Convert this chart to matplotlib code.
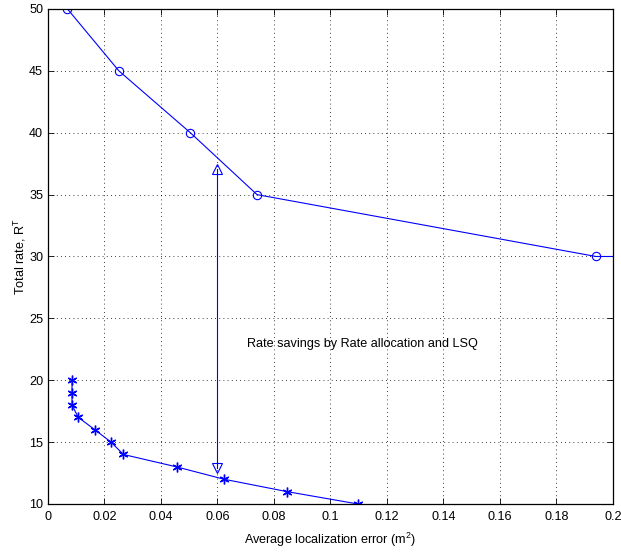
import matplotlib
matplotlib.use("Agg")
import matplotlib.pyplot as plt
from matplotlib.ticker import FuncFormatter

plt.rcParams['font.family'] = ['Liberation Sans', 'DejaVu Sans']
plt.rcParams['mathtext.fontset'] = 'custom'
plt.rcParams['mathtext.rm'] = 'Liberation Sans'
plt.rcParams['mathtext.it'] = 'Liberation Sans'

# uniform quantization curve
err_uniform = [0.0069, 0.0251, 0.0504, 0.0740, 0.1940, 0.2300]
rate_uniform = [50, 45, 40, 35, 30, 30]

# rate allocation + LSQ curve
err_lsq = [0.0085, 0.0085, 0.0085, 0.0107, 0.0166, 0.0223, 0.0267, 0.0455, 0.0623, 0.0846, 0.1097]
rate_lsq = [20, 19, 18, 17, 16, 15, 14, 13, 12, 11, 10]

arrow_x = 0.06
arrow_top = 37.1
arrow_bottom = 12.9
note = 'Rate savings by Rate allocation and LSQ'

fs = 9.1

fig = plt.figure(figsize=(6.21, 5.52), dpi=100)
ax = fig.add_axes([0.0773, 0.087, 0.9097, 0.8967])

ax.plot(err_uniform, rate_uniform, color='blue', lw=0.8, marker='o',
        ms=6, mfc='none', mec='blue', mew=0.8)
ax.plot(err_lsq, rate_lsq, color='blue', lw=0.8, marker=(6, 2, 0),
        ms=7, mec='blue', mew=1.0)

# arrow between the curves
ax.plot([arrow_x, arrow_x], [arrow_top, arrow_bottom], color='blue', lw=0.8)
ax.plot([arrow_x], [arrow_top], marker='^', ms=7, mfc='none', mec='blue', mew=0.8)
ax.plot([arrow_x], [arrow_bottom], marker='v', ms=7, mfc='none', mec='blue', mew=0.8)
ax.text(0.0703, 22.9, note, fontsize=fs, va='center', ha='left')

ax.set_xlim(0, 0.2)
ax.set_ylim(10, 50)
ax.set_xticks([0, 0.02, 0.04, 0.06, 0.08, 0.1, 0.12, 0.14, 0.16, 0.18, 0.2])
ax.set_yticks(range(10, 51, 5))
ax.xaxis.set_major_formatter(FuncFormatter(lambda v, p: '%g' % round(v, 4)))
ax.tick_params(direction='in', top=True, right=True, labelsize=fs, length=4, width=0.6)
ax.tick_params(axis='x', pad=5)
ax.grid(True, color='black', linestyle=(0, (1, 4)), linewidth=0.6)
for s in ax.spines.values():
    s.set_linewidth(0.9)

ax.set_xlabel('Average localization error (m$^2$)', fontsize=fs, labelpad=6)
ax.set_ylabel('Total rate, R$^T$', fontsize=fs, labelpad=1)

fig.savefig('out.png', dpi=100)
